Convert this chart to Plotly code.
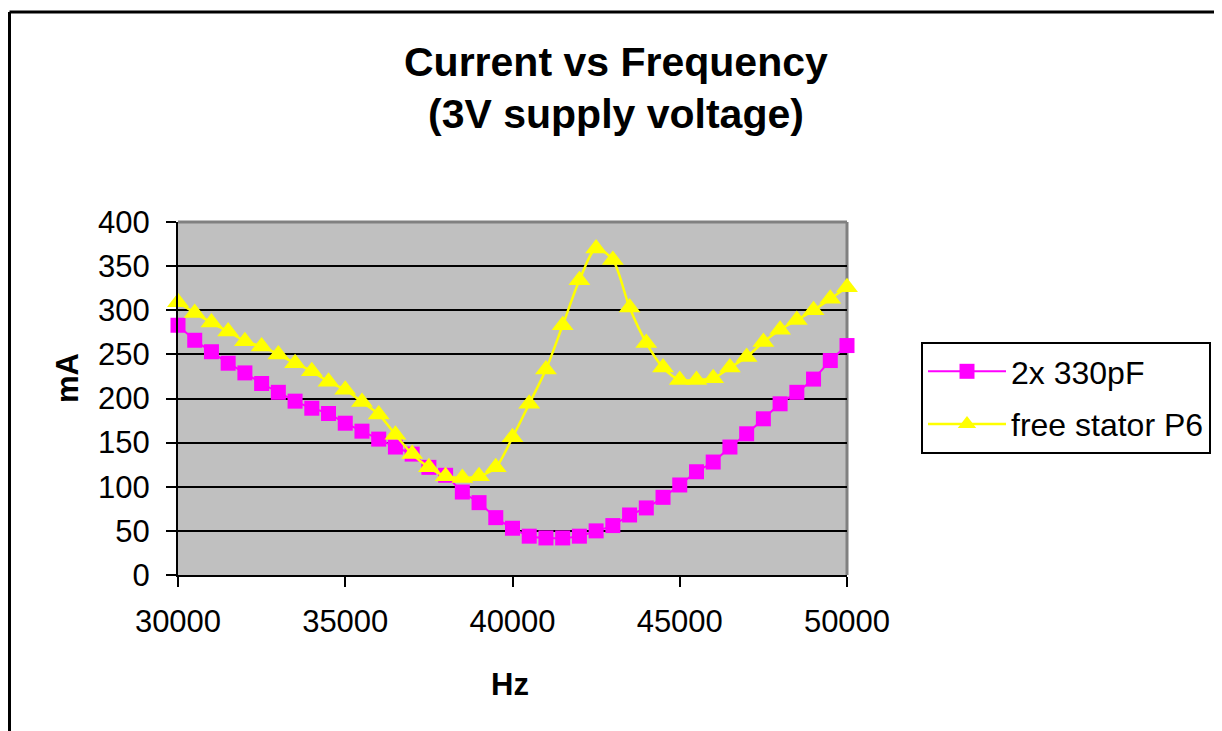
import plotly.graph_objects as go

freq_hz = list(range(30000, 50001, 500))

cap_2x330pf = [283, 266, 253, 240, 229, 217, 207, 197, 189, 183,
               172, 163, 154, 145, 137, 122, 113, 94, 82, 65,
               53, 44, 42, 42, 44, 50, 56, 68, 76, 88,
               102, 117, 128, 145, 160, 177, 194, 207, 222, 243, 260]

free_stator_p6 = [309, 297, 286, 276, 265, 259, 250, 240, 231, 219,
                  210, 196, 182, 159, 137, 122, 112, 110, 112, 122,
                  156, 194, 233, 283, 334, 370, 357, 303, 263, 235,
                  221, 221, 223, 235, 247, 264, 278, 289, 300, 313, 326]

x_ticks = [30000, 35000, 40000, 45000, 50000]
series_names = ["2x 330pF", "free stator P6"]

FONT = "Liberation Sans, Arial, sans-serif"

OFF = 8  # page offset of the figure
# plot area in screen pixels
L, R, T, B = 178, 847, 222, 575
W, H = 1222, 731


def px_x(p):
    return (p - L) / (R - L)


def px_y(p):
    return (B - p) / (B - T)


fig = go.Figure()
fig.add_trace(go.Scatter(
    x=freq_hz, y=cap_2x330pf, name=series_names[0], mode="lines+markers",
    line=dict(color="#FF00FF", width=2, shape="spline", smoothing=0.6),
    marker=dict(symbol="square", size=15, color="#FF00FF"),
    cliponaxis=False, legendgroup="a"))
fig.add_trace(go.Scatter(
    x=freq_hz, y=free_stator_p6, name=series_names[1], mode="lines+markers",
    line=dict(color="#FFFF00", width=2.5, shape="spline", smoothing=0.8),
    marker=dict(symbol="triangle-up", size=19, color="#FFFF00"),
    cliponaxis=False, legendgroup="b"))

shapes = [
    dict(type="line", xref="paper", yref="paper", x0=0, x1=1, y0=1, y1=1,
         line=dict(color="#808080", width=3), layer="between"),
    dict(type="line", xref="paper", yref="paper", x0=1, x1=1, y0=0, y1=1,
         line=dict(color="#808080", width=3), layer="between"),
    dict(type="line", xref="paper", yref="paper", x0=px_x(9.5), x1=px_x(W + 20),
         y0=px_y(12), y1=px_y(12), line=dict(color="black", width=3)),
    dict(type="line", xref="paper", yref="paper", x0=px_x(9.5), x1=px_x(9.5),
         y0=px_y(12), y1=px_y(H + 20), line=dict(color="black", width=3)),
]

annotations = [
    dict(text="<b>Current vs Frequency</b>", xref="paper", yref="paper",
         x=px_x(616), y=px_y(62), xanchor="center", yanchor="middle",
         showarrow=False, font=dict(size=41, color="black", family=FONT)),
    dict(text="<b>(3V supply voltage)</b>", xref="paper", yref="paper",
         x=px_x(616), y=px_y(114), xanchor="center", yanchor="middle",
         showarrow=False, font=dict(size=41, color="black", family=FONT)),
    dict(text="<b>mA</b>", xref="paper", yref="paper",
         x=px_x(67), y=px_y(378), xanchor="center", yanchor="middle",
         textangle=-90, showarrow=False,
         font=dict(size=31, color="black", family=FONT)),
    dict(text="<b>Hz</b>", xref="paper", yref="paper",
         x=px_x(510), y=px_y(684), xanchor="center", yanchor="middle",
         showarrow=False, font=dict(size=31, color="black", family=FONT)),
]

fig.update_layout(
    width=W, height=H,
    margin=dict(l=L - OFF, r=W - R + OFF, t=T - OFF, b=H - B + OFF, pad=0),
    paper_bgcolor="white", plot_bgcolor="#C0C0C0",
    font=dict(family=FONT, size=31, color="black"),
    showlegend=True,
    legend=dict(x=px_x(921), y=px_y(342), xanchor="left", yanchor="top",
                bgcolor="white", bordercolor="black", borderwidth=2,
                font=dict(size=32, family=FONT, color="black"),
                tracegroupgap=8, itemwidth=78),
    shapes=shapes, annotations=annotations,
)
fig.update_xaxes(range=[30000, 50000], tickvals=x_ticks,
                 ticktext=[str(v) for v in x_ticks],
                 showgrid=False, zeroline=False, showline=True,
                 linecolor="black", linewidth=2, ticks="outside",
                 ticklen=10, tickwidth=2, tickcolor="black",
                 ticklabelstandoff=8,
                 tickfont=dict(size=31, family=FONT))
fig.update_yaxes(range=[0, 400], dtick=50, tick0=0,
                 showgrid=True, gridcolor="black", gridwidth=2,
                 zeroline=False, showline=True,
                 linecolor="black", linewidth=2, ticks="outside",
                 ticklen=10, tickwidth=2, tickcolor="black",
                 ticklabelstandoff=10,
                 tickfont=dict(size=31, family=FONT))

fig.write_html("out.html")
